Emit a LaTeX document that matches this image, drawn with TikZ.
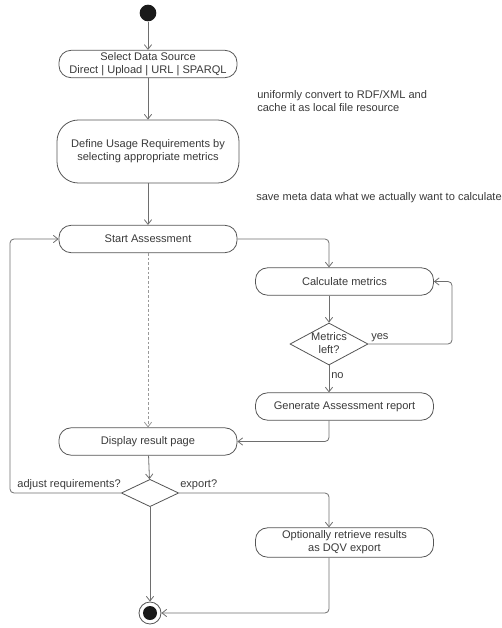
\documentclass[tikz,border=0pt]{standalone}
\usepackage{fontspec}
\setmainfont{Liberation Sans}
\usetikzlibrary{arrows.meta,shapes.geometric,calc}
\definecolor{boxc}{HTML}{555555}
\definecolor{linec}{HTML}{6E6E6E}
\definecolor{txtc}{HTML}{3A3A3A}
\definecolor{dotc}{HTML}{1A1A1A}
\begin{document}
\begin{tikzpicture}[x=0.75pt,y=-0.75pt,
  every node/.style={font=\fontsize{8.3}{9.8}\selectfont, text=txtc},
  act/.style={draw=boxc, fill=white, line width=0.6pt, rounded corners=9pt,
    minimum width=133.5pt, minimum height=20.5pt, inner sep=0pt, align=center},
  bigact/.style={act, rounded corners=16pt, minimum width=136.5pt, minimum height=47.25pt},
  dec/.style={draw=boxc, fill=white, line width=0.6pt, shape=diamond, inner sep=0pt},
  flow/.style={draw=linec, line width=0.6pt, rounded corners=3pt, -{Straight Barb[length=3.5pt,width=5.5pt]}},
  dflow/.style={flow, draw=linec!70, dash pattern=on 2pt off 1.5pt},
  note/.style={anchor=west, align=left, inner sep=0pt, font=\fontsize{8.3}{9.8}\selectfont},
  lbl/.style={inner sep=0pt}
]
\useasboundingbox (0,0) rectangle (502,628);

\node[circle, fill=dotc, minimum size=12.5pt, inner sep=0pt] (start) at (148,13) {};
\node[act] (select) at (148,64) {Select Data Source\\Direct | Upload | URL | SPARQL};
\node[bigact] (define) at (148,151.5) {Define Usage Requirements by\\selecting appropriate metrics};
\node[act] (startA) at (148,239) {Start Assessment};
\node[act] (calc) at (344.5,281.5) {Calculate metrics};
\node[dec, minimum width=58.5pt, minimum height=31.5pt] (d1) at (329,344) {};
\node[lbl, align=center] (d1t) at (329,343) {Metrics\\left?};
\node[act] (gen) at (344.5,406.5) {Generate Assessment report};
\node[act] (display) at (148,441.5) {Display result page};
\node[dec, minimum width=43pt, minimum height=20.5pt] (d2) at (150,493) {};
\node[act, minimum height=22pt] (opt) at (344.5,542.5) {Optionally retrieve results\\as DQV export};
\node[circle, draw=boxc, fill=white, line width=0.6pt, minimum size=16.5pt, inner sep=0pt,
  path picture={\fill[dotc] (path picture bounding box.center) circle (5.25pt);}] (end) at (150,613) {};

\node[note] (n1) at (257,101.5) {uniformly convert to RDF/XML and\\cache it as local file resource};
\node[note] (n2) at (256,198) {save meta data what we actually want to calculate};

\coordinate (L) at (10,493);
\coordinate (R) at (452,344);

\draw[flow] (start) -- (select);
\draw[flow] (select) -- (define);
\draw[flow] (define) -- (startA);
\draw[dflow] (startA) -- (display);
\draw[flow] (startA.east) -| (d1 |- calc.north);
\draw[flow] (d1 |- calc.south) -- (d1.north);
\draw[flow] (d1.east) -- (R) |- (calc.east);
\draw[flow] (d1.south) -- (d1 |- gen.north);
\draw[flow] (d1 |- gen.south) |- (display.east);
\draw[flow] (display) -- (d2);
\draw[flow] (d2.west) -- (L) |- (startA.west);
\draw[flow] (d2.east) -| (d1 |- opt.north);
\draw[flow] (d1 |- opt.south) |- (end.east);
\draw[flow] (d2.south) -- (end.north);

\node[lbl, anchor=south west] (yes) at (371,342) {yes};
\node[lbl, anchor=west] (no) at (331,376) {no};
\node[lbl, anchor=south east] (adj) at (121,490) {adjust requirements?};
\node[lbl, anchor=south west] (exp) at (180,490) {export?};
\end{tikzpicture}
\end{document}
